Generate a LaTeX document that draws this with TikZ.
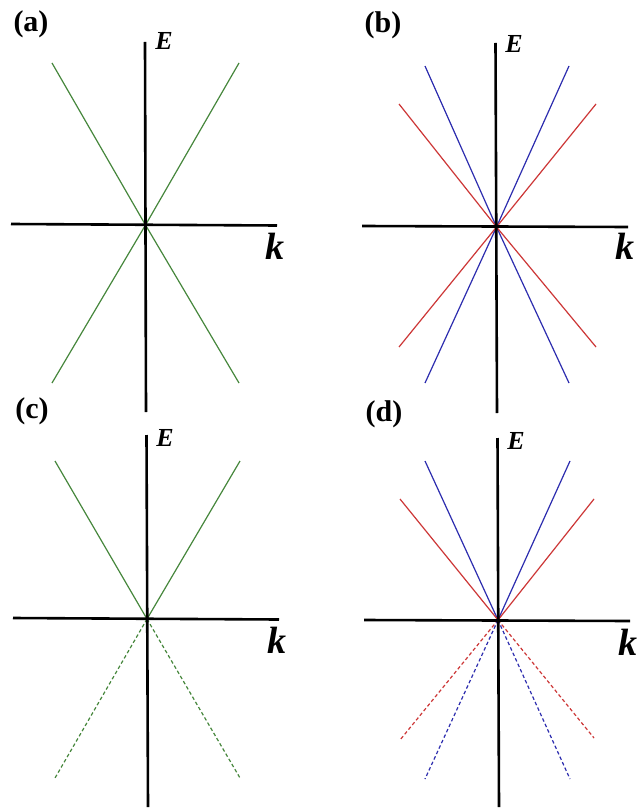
\documentclass[tikz,border=0pt]{standalone}
\usepackage{fontspec}
\setmainfont{Liberation Serif}
\begin{document}
\begin{tikzpicture}[x=1pt,y=-1pt,
  axis/.style={line width=2.6pt,black},
  band/.style={line width=1.2pt},
  dashband/.style={line width=1.2pt,dash pattern=on 3.5pt off 2.5pt},
  panel/.style={font=\fontsize{30}{30}\selectfont\bfseries,inner sep=0pt},
  elab/.style={font=\fontsize{26}{26}\selectfont\bfseries\itshape,inner sep=0pt},
  klab/.style={font=\fontsize{38}{38}\selectfont\bfseries\itshape,inner sep=0pt}]
\definecolor{gr}{RGB}{70,135,60}
\definecolor{bl}{RGB}{45,45,175}
\definecolor{rd}{RGB}{205,55,55}
\useasboundingbox (0,0) rectangle (637,810);
\fill[white] (0,0) rectangle (637,810);

% ---------- panel (a)
\coordinate (Oa) at (145.5,225);
\coordinate (aT) at (145,42); \coordinate (aB) at (146,412);
\coordinate (aL) at (11,224); \coordinate (aR) at (277,225.5);
\draw[band,gr] (52,63) coordinate (a1) -- (Oa) -- (239,383) coordinate (a2);
\draw[band,gr] (239,63) coordinate (a3) -- (Oa) -- (52,383) coordinate (a4);
\draw[axis] (aT) -- (aB);
\draw[axis] (aL) -- (aR);
\node[panel] (la) at (31,24) {(a)};
\node[elab] (Ea) at (164,41) {E};
\node[klab] (ka) at (275,246) {k};

% ---------- panel (b)
\coordinate (Ob) at (496.5,227);
\coordinate (bT) at (495.5,43); \coordinate (bB) at (497,413);
\coordinate (bL) at (362,226); \coordinate (bR) at (628,227);
\draw[band,bl] (425,66) coordinate (b1) -- (Ob) -- (569,383) coordinate (b2);
\draw[band,bl] (569,66) coordinate (b3) -- (Ob) -- (425,383) coordinate (b4);
\draw[band,rd] (399,104) coordinate (b5) -- (Ob) -- (596,347) coordinate (b6);
\draw[band,rd] (596,104) coordinate (b7) -- (Ob) -- (399,347) coordinate (b8);
\draw[axis] (bT) -- (bB);
\draw[axis] (bL) -- (bR);
\node[panel] (lb) at (383,25) {(b)};
\node[elab] (Eb) at (514,44) {E};
\node[klab] (kb) at (625,246) {k};

% ---------- panel (c)
\coordinate (Oc) at (147,619);
\coordinate (cT) at (146.5,435); \coordinate (cB) at (148,807);
\coordinate (cL) at (13,618); \coordinate (cR) at (279,619.5);
\draw[band,gr] (55,461) coordinate (c1) -- (Oc) -- (240,461) coordinate (c2);
\draw[dashband,gr] (Oc) -- (55,778) coordinate (c3);
\draw[dashband,gr] (Oc) -- (240,778) coordinate (c4);
\draw[axis] (cT) -- (cB);
\draw[axis] (cL) -- (cR);
\node[panel] (lc) at (32,411) {(c)};
\node[elab] (Ec) at (165,438) {E};
\node[klab] (kc) at (277,640) {k};

% ---------- panel (d)
\coordinate (Od) at (498,620);
\coordinate (dT) at (497.5,438); \coordinate (dB) at (499,807);
\coordinate (dL) at (364,620); \coordinate (dR) at (630,621);
\draw[band,bl] (425,461) coordinate (d1) -- (Od) -- (570,461) coordinate (d2);
\draw[band,rd] (400,499) coordinate (d3) -- (Od) -- (594,499) coordinate (d4);
\draw[dashband,rd] (Od) -- (400,740) coordinate (d5);
\draw[dashband,rd] (Od) -- (594,738) coordinate (d6);
\draw[dashband,bl] (Od) -- (425,779) coordinate (d7);
\draw[dashband,bl] (Od) -- (570,779) coordinate (d8);
\draw[axis] (dT) -- (dB);
\draw[axis] (dL) -- (dR);
\node[panel] (ld) at (384,414) {(d)};
\node[elab] (Ed) at (516,441) {E};
\node[klab] (kd) at (628,642) {k};
\end{tikzpicture}
\end{document}
